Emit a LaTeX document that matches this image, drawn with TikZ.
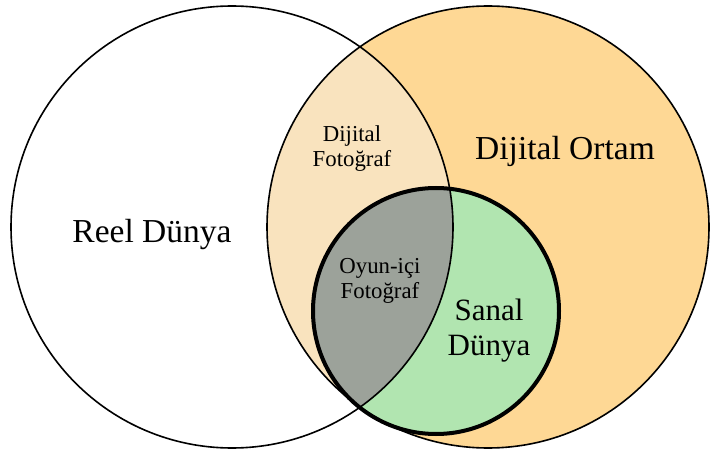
\documentclass[tikz,border=0pt]{standalone}
\usepackage{fontspec}
\setmainfont{Liberation Serif}
\usetikzlibrary{positioning,backgrounds}
\definecolor{ortamfill}{HTML}{FED895}
\definecolor{fotofill}{HTML}{F9E3BE}
\definecolor{sanalfill}{HTML}{B1E5B0}
\definecolor{oyunfill}{HTML}{9CA29A}
\tikzset{setcircle/.style={circle,draw,inner sep=0pt,line width=1.6pt},
    bigtext/.style={draw=none,color=black,align=center,font=\fontsize{33.5}{37}\selectfont},
    midtext/.style={draw=none,color=black,align=center,font=\fontsize{31}{35}\selectfont},
    smalltext/.style={draw=none,color=black,align=center,font=\fontsize{22.8}{25}\selectfont}}

\begin{document}
\begin{tikzpicture}[x=1pt,y=-1pt]
        \useasboundingbox (0,0) rectangle (710,457);
        \node[setcircle,minimum size=442pt] (reel) at (232,227) {};
        \node[setcircle,minimum size=442pt] (ortam) at (488,227) {};
        \node[setcircle,minimum size=246pt,line width=4pt] (sanal) at (436,311) {};

        \begin{scope}[on background layer]
            \fill[ortamfill] (ortam.center) circle[radius=221pt];
            \begin{scope}
                \clip (reel.center) circle[radius=221pt];
                \fill[fotofill] (ortam.center) circle[radius=221pt];
            \end{scope}
            \fill[sanalfill] (sanal.center) circle[radius=123pt];
            \begin{scope}
                \clip (reel.center) circle[radius=221pt];
                \fill[oyunfill] (sanal.center) circle[radius=123pt];
            \end{scope}
        \end{scope}

        \node[bigtext] (reeltext) at (152,234) {Reel Dünya};
        \node[bigtext] (ortamtext) at (565,151) {Dijital Ortam};
        \node[midtext] (sanaltext) at (489,331) {Sanal\\Dünya};
        \node[smalltext] (fototext) at (352,149) {Dijital\\Fotoğraf};
        \node[smalltext] (oyuntext) at (380,281) {Oyun-içi\\Fotoğraf};
\end{tikzpicture}
\end{document}
